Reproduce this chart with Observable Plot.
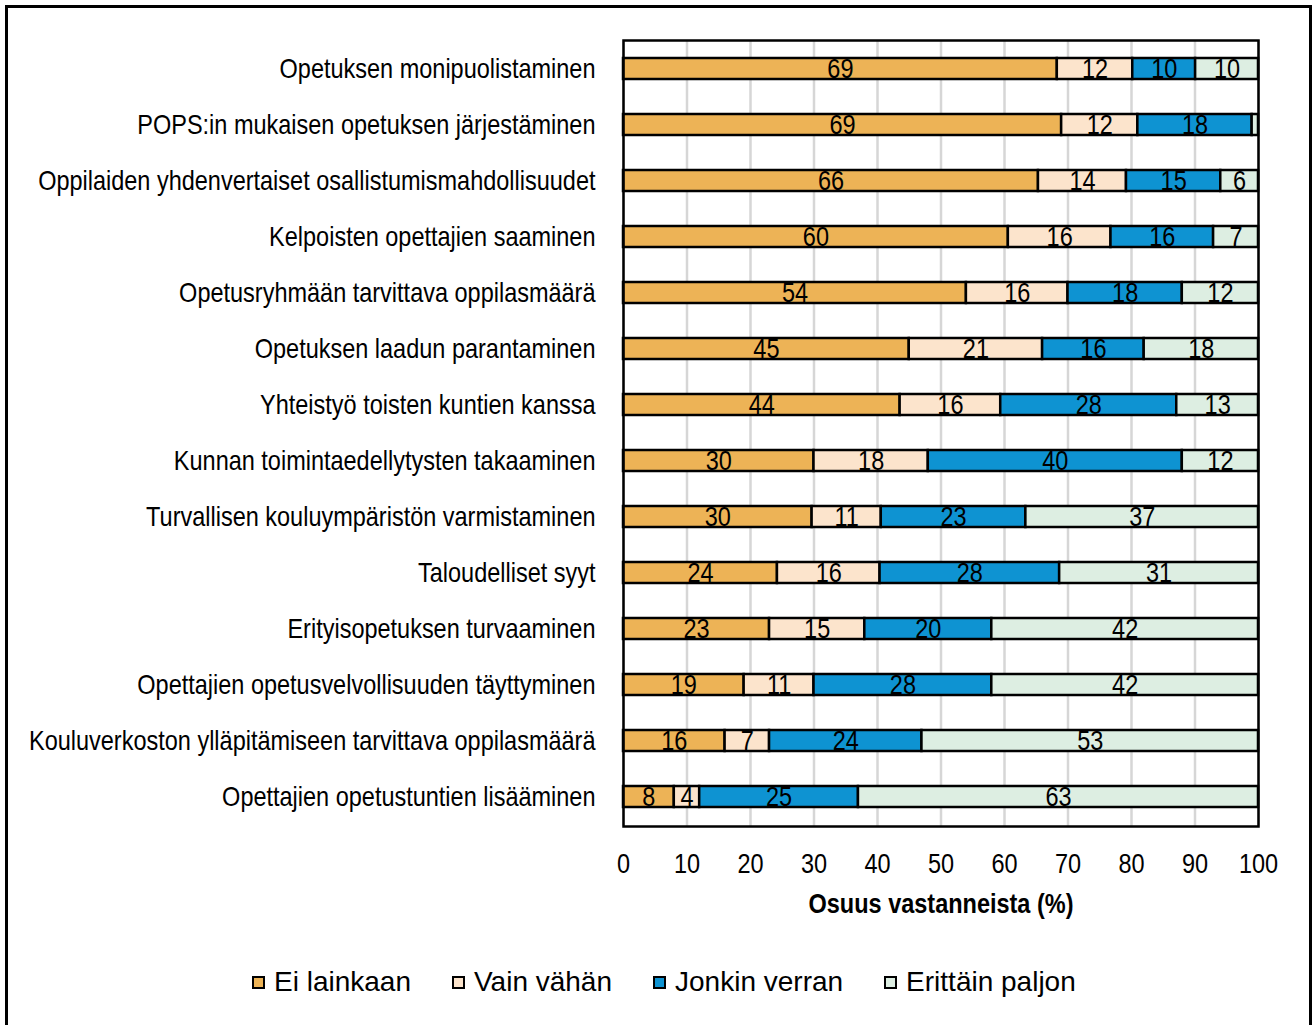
<!DOCTYPE html>
<html>
<head>
<meta charset="utf-8">
<script src="https://cdn.jsdelivr.net/npm/d3@7"></script>
<script src="https://cdn.jsdelivr.net/npm/@observablehq/plot@0.6"></script>
<style>
  html, body { margin: 0; padding: 0; background: #fff; }
  body { width: 1314px; height: 1025px; position: relative; overflow: hidden; }
  #frame { position: absolute; left: 5px; top: 5px; width: 1307px; height: 1100px; border: 3px solid #000; box-sizing: border-box; }
  #chart { position: absolute; left: 0; top: 0; }
  #chart g[aria-label="x-grid"] line { stroke: #d6d6d6 !important; stroke-opacity: 1 !important; stroke-width: 2.5px !important; }
  #legend { position: absolute; left: 252px; top: 966px; display: flex; align-items: center; font-family: "Liberation Sans", Arial, sans-serif; font-size: 28px; color: #000; }
  .item { display: flex; align-items: center; margin-right: 41px; }
  .sw { width: 13px; height: 13px; border: 2px solid #000; box-sizing: border-box; margin-right: 9px; }
</style>
</head>
<body>
<div id="frame"></div>
<div id="chart"></div>
<div id="legend"></div>
<script>
const categories = [
  "Opetuksen monipuolistaminen",
  "POPS:in mukaisen opetuksen järjestäminen",
  "Oppilaiden yhdenvertaiset osallistumismahdollisuudet",
  "Kelpoisten opettajien saaminen",
  "Opetusryhmään tarvittava oppilasmäärä",
  "Opetuksen laadun parantaminen",
  "Yhteistyö toisten kuntien kanssa",
  "Kunnan toimintaedellytysten takaaminen",
  "Turvallisen kouluympäristön varmistaminen",
  "Taloudelliset syyt",
  "Erityisopetuksen turvaaminen",
  "Opettajien opetusvelvollisuuden täyttyminen",
  "Kouluverkoston ylläpitämiseen tarvittava oppilasmäärä",
  "Opettajien opetustuntien lisääminen"
];
const seriesNames = ["Ei lainkaan", "Vain vähän", "Jonkin verran", "Erittäin paljon"];
const eiLainkaan     = [69, 69, 66, 60, 54, 45, 44, 30, 30, 24, 23, 19, 16, 8];
const vainVahan      = [12, 12, 14, 16, 16, 21, 16, 18, 11, 16, 15, 11, 7, 4];
const jonkinVerran   = [10, 18, 15, 16, 18, 16, 28, 40, 23, 28, 20, 28, 24, 25];
const erittainPaljon = [10, 1, 6, 7, 12, 18, 13, 12, 37, 31, 42, 42, 53, 63];
const seriesColors = ["#EDB356", "#FCE4CC", "#0E93D2", "#DDEEE2"];
const xTicks = [0, 10, 20, 30, 40, 50, 60, 70, 80, 90, 100];
const axisTitle = "Osuus vastanneista (%)";

const seriesValues = [eiLainkaan, vainVahan, jonkinVerran, erittainPaljon];
const table = categories.flatMap((cat, i) =>
  seriesNames.map((s, j) => ({cat, series: s, value: seriesValues[j][i]})));

const fam = '"Liberation Sans", Arial, sans-serif';
const fs = 23.5;

const stackOpts = {x: "value", y: "cat", z: "series", order: seriesNames, offset: "normalize"};

const chart = Plot.plot({
  width: 1314,
  height: 930,
  marginLeft: 623,
  marginRight: 56,
  marginTop: 40,
  marginBottom: 104,
  style: {fontFamily: fam, fontSize: fs + "px", color: "#000", background: "transparent", overflow: "visible"},
  x: {domain: [0, 1], ticks: xTicks.map(t => t / 100), tickFormat: d => Math.round(d * 100), tickSize: 0, tickPadding: 28, label: null, grid: true},
  y: {domain: categories, paddingInner: 0.62, paddingOuter: 0.31, tickSize: 0, tickPadding: 28, label: null},
  color: {domain: seriesNames, range: seriesColors},
  marks: [
    Plot.barX(table, Plot.stackX({...stackOpts, fill: "series", stroke: "#000", strokeWidth: 2.5})),
    Plot.text(table, Plot.stackX({...stackOpts, text: d => d.value >= 2 ? d.value : "", fill: "#000", fontSize: fs})),
    Plot.frame({stroke: "#000", strokeWidth: 2.5}),
    Plot.text([axisTitle], {frameAnchor: "bottom", lineAnchor: "middle", dy: 77, text: d => d, fontWeight: "bold", fontSize: fs, fill: "#000"})
  ]
});
document.getElementById("chart").appendChild(chart);

// the reference's chart text is drawn vertically stretched; mimic that
chart.querySelectorAll("text").forEach(t => {
  const b = t.getBBox();
  if (!b.width || !b.height) return;
  const cx = b.x + b.width / 2, cy = b.y + b.height / 2;
  const tr = t.getAttribute("transform") || "";
  t.setAttribute("transform", `${tr} translate(${cx},${cy}) scale(1,1.2) translate(${-cx},${-cy})`);
});

const legend = document.getElementById("legend");
seriesNames.forEach((s, i) => {
  const it = document.createElement("div");
  it.className = "item";
  const sw = document.createElement("div");
  sw.className = "sw";
  sw.style.background = seriesColors[i];
  const tx = document.createElement("span");
  tx.textContent = s;
  it.appendChild(sw);
  it.appendChild(tx);
  legend.appendChild(it);
});
</script>
</body>
</html>
